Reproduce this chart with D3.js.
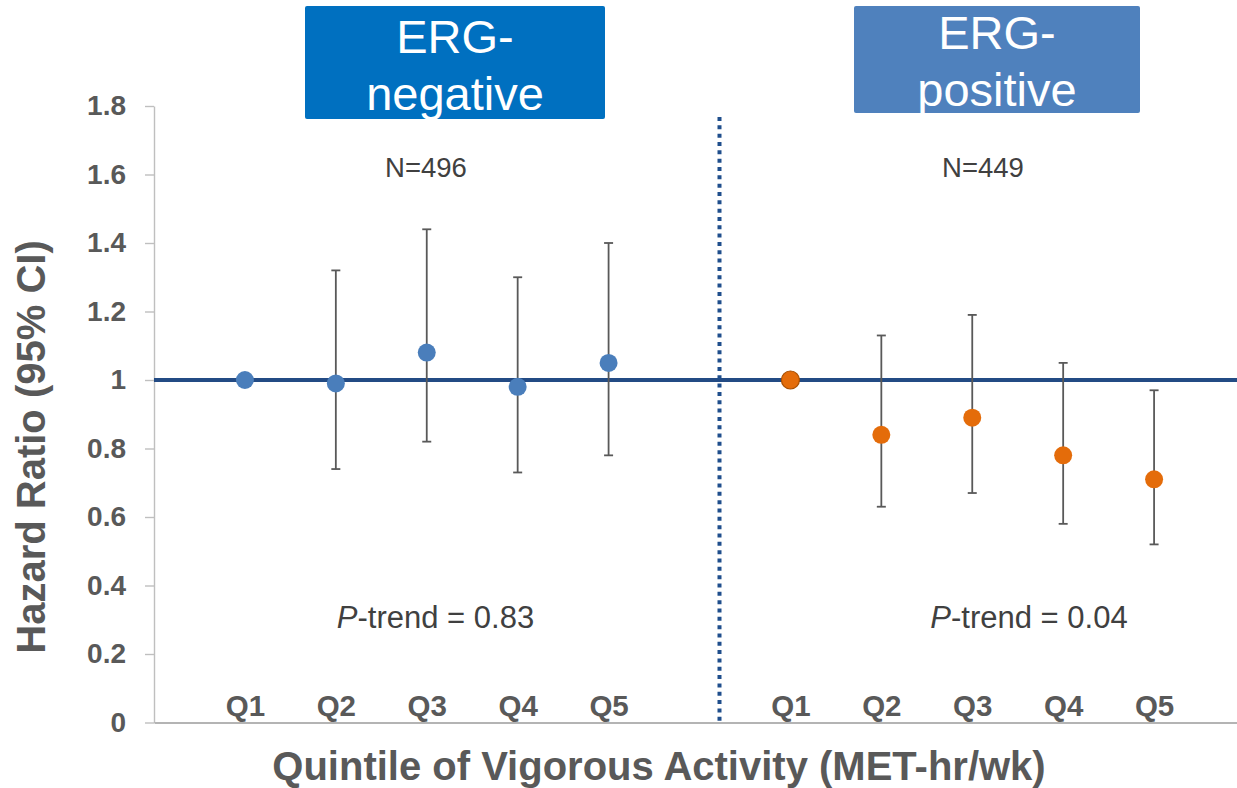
<!DOCTYPE html>
<html>
<head>
<meta charset="utf-8">
<script src="https://cdn.jsdelivr.net/npm/d3@7"></script>
<style>
  html, body { margin: 0; padding: 0; background: #fff; }
  svg { display: block; font-family: 'Liberation Sans', Arial, sans-serif; }
</style>
</head>
<body>
<div class="chart"></div>
<script>
// Hazard ratios (95% CI) by quintile of vigorous activity, ERG-negative vs
// ERG-positive. Q1 is the reference group (no CI). x runs as a plain number
// line: 1-5 for ERG-negative, 7-11 for ERG-positive.
var groups    = ['neg', 'neg', 'neg', 'neg', 'neg', 'pos', 'pos', 'pos', 'pos', 'pos']
var xPos      = [1, 2, 3, 4, 5, 7, 8, 9, 10, 11]
var quintiles = ['Q1', 'Q2', 'Q3', 'Q4', 'Q5', 'Q1', 'Q2', 'Q3', 'Q4', 'Q5']
var hr        = [1.00, 0.99, 1.08, 0.98, 1.05, 1.00, 0.84, 0.89, 0.78, 0.71]
var ciLow     = [null, 0.74, 0.82, 0.73, 0.78, null, 0.63, 0.67, 0.58, 0.52]
var ciHigh    = [null, 1.32, 1.44, 1.30, 1.40, null, 1.13, 1.19, 1.05, 0.97]

var yTicks     = [0, 0.2, 0.4, 0.6, 0.8, 1, 1.2, 1.4, 1.6, 1.8]
var headerText = [['ERG-', 'negative'], ['ERG-', 'positive']]
var nText      = ['N=496', 'N=449']
var pText      = ['0.83', '0.04']
var refHR      = 1
var dividerAt  = 6.22

var W = 1237, H = 788
var GREY = '#595959', TEXT = '#404040'

var svg = d3.select('.chart').append('svg').attr('width', W).attr('height', H)

var x = d3.scaleLinear().domain([0, 12]).range([154, 1245])
var y = d3.scaleLinear().domain([0, 1.8]).range([722.5, 106])

// ---- header boxes ----
var boxes = [
  {x0: 305, x1: 605, y0: 6, y1: 119, fill: '#0070c0', base: [52.7, 110]},
  {x0: 854, x1: 1140, y0: 6, y1: 113, fill: '#4f81bd', base: [49, 106]}
]
boxes.forEach(function(b, i){
  svg.append('rect')
    .attr('x', b.x0).attr('y', b.y0).attr('width', b.x1 - b.x0).attr('height', b.y1 - b.y0)
    .attr('rx', 2).attr('fill', b.fill)
  headerText[i].forEach(function(t, j){
    svg.append('text').text(t)
      .attr('x', (b.x0 + b.x1) / 2).attr('y', b.base[j])
      .attr('text-anchor', 'middle').attr('font-size', 47).attr('fill', '#fff')
  })
})

// ---- axes ----
var yAxis = d3.axisLeft(y).tickValues(yTicks).tickSize(9).tickSizeOuter(0).tickPadding(19)
  .tickFormat(function(d){ return d === 0 || d === 1 ? String(d) : d.toFixed(1) })
var yG = svg.append('g').attr('transform', 'translate(' + x(0) + ',0)').call(yAxis)
yG.select('.domain').attr('stroke', '#bfbfbf').attr('stroke-width', 1.4)
yG.selectAll('.tick line').attr('stroke', '#bfbfbf').attr('stroke-width', 1.4)
yG.selectAll('.tick text').attr('font-size', 28).attr('font-weight', 'bold')
  .attr('fill', GREY).attr('font-family', null)

// quintile labels sit just above the baseline
var xAxis = d3.axisTop(x).tickValues(xPos).tickSize(0).tickSizeOuter(0).tickPadding(6.5)
  .tickFormat(function(d, i){ return quintiles[i] })
var xG = svg.append('g').attr('transform', 'translate(0,' + y(0) + ')').call(xAxis)
xG.select('.domain').attr('stroke', '#b4b4b4').attr('stroke-width', 2)
xG.selectAll('.tick text').attr('font-size', 29.5).attr('font-weight', 'bold')
  .attr('fill', GREY).attr('font-family', null)

svg.append('text').text('Hazard Ratio (95% CI)')
  .attr('transform', 'translate(45,447) rotate(-90)')
  .attr('text-anchor', 'middle').attr('font-size', 40).attr('font-weight', 'bold').attr('fill', GREY)

svg.append('text').text('Quintile of Vigorous Activity (MET-hr/wk)')
  .attr('x', 659).attr('y', 780)
  .attr('text-anchor', 'middle').attr('font-size', 40).attr('font-weight', 'bold').attr('fill', GREY)

// ---- reference line + group divider ----
svg.append('line')
  .attr('x1', x(0)).attr('x2', W).attr('y1', y(refHR)).attr('y2', y(refHR))
  .attr('stroke', '#234b84').attr('stroke-width', 3.8)

svg.append('line')
  .attr('x1', x(dividerAt)).attr('x2', x(dividerAt)).attr('y1', 117).attr('y2', y(0))
  .attr('stroke', '#1f4e8c').attr('stroke-width', 4).attr('stroke-dasharray', '4,4.33')

// ---- error bars ----
var idx = d3.range(hr.length)
var withCI = idx.filter(function(i){ return ciLow[i] != null })
var bars = svg.append('g').attr('stroke', GREY).attr('stroke-width', 1.8)
withCI.forEach(function(i){
  var cx = x(xPos[i])
  bars.append('line').attr('x1', cx).attr('x2', cx).attr('y1', y(ciLow[i])).attr('y2', y(ciHigh[i]))
  ;[ciLow[i], ciHigh[i]].forEach(function(v){
    bars.append('line').attr('x1', cx - 4.5).attr('x2', cx + 4.5).attr('y1', y(v)).attr('y2', y(v))
  })
})

// ---- points ----
svg.selectAll('circle.pt').data(idx).enter().append('circle')
  .attr('class', 'pt')
  .attr('cx', function(i){ return x(xPos[i]) })
  .attr('cy', function(i){ return y(hr[i]) })
  .attr('r', 9)
  .attr('fill', function(i){ return groups[i] == 'neg' ? '#4a7ebb' : '#e46c0a' })
  .attr('stroke', function(i){ return groups[i] == 'pos' && ciLow[i] == null ? '#a94f00' : 'none' })
  .attr('stroke-width', 1.2)

// ---- annotations ----
var nX = [426, 983], pX = [435.5, 1029]
nText.forEach(function(t, i){
  svg.append('text').text(t)
    .attr('x', nX[i]).attr('y', 177)
    .attr('text-anchor', 'middle').attr('font-size', 27.5).attr('fill', TEXT)
})
pText.forEach(function(t, i){
  var txt = svg.append('text')
    .attr('x', pX[i]).attr('y', 627.5)
    .attr('text-anchor', 'middle').attr('font-size', 31).attr('fill', TEXT)
  txt.append('tspan').attr('font-style', 'italic').text('P')
  txt.append('tspan').text('-trend = ' + t)
})
</script>
</body>
</html>
